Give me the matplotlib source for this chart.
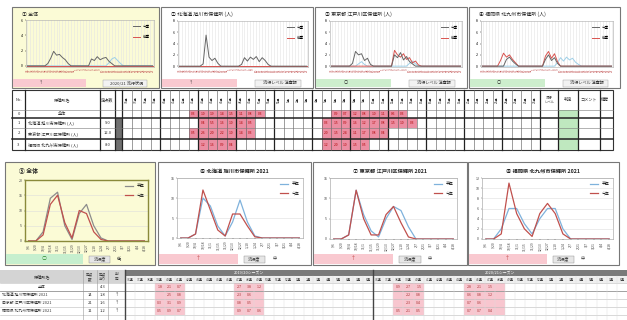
import matplotlib
matplotlib.use("Agg")
import matplotlib.pyplot as plt
from matplotlib.patches import Rectangle

plt.rcParams["font.family"] = ["Noto Sans CJK JP", "DejaVu Sans"]

W, H = 627, 320

# ── weekly counts per sentinel, 44 weeks (top row + summary table) ───────────
top_weeks = ["36", "37", "38", "39", "40", "41", "42", "43", "44", "45", "46",
             "47", "48", "49", "50", "51", "52", "1", "2", "3", "4", "5",
             "6", "7", "8", "9", "10", "11", "12", "13", "14", "15", "16",
             "17", "18", "19", "20", "21", "22", "23", "24", "25", "26", "27"]

top_titles = ["① 全体", "② 北海道 旭川市保健所 (人)",
              "③ 東京都 江戸川区保健所 (人)", "④ 福岡県 北九州市保健所 (人)"]

cur_all = [0, 0, 0, 0, 0, 0, 0, 0.3, 1.0, 1.9, 1.4,
           1.5, 1.1, 0.8, 0.3, 0, 0, 0, 0, 0, 0, 0,
           0.9, 0.7, 1.2, 0.8, 1.0, 1.1, 0.6, 0.3, 0, 0, 0,
           0, 0, 0, 0, 0, 0, 0, 0, 0, 0, 0]
cur_a = [0, 0, 0, 0, 0, 0, 0, 0, 0.4, 5.5, 1.6,
         1.0, 1.4, 0.5, 0, 0, 0, 0, 0, 0, 0, 0.3,
         1.5, 0.9, 1.6, 1.2, 1.7, 0.8, 1.5, 1.0, 0.3, 0, 0,
         0, 0, 0, 0, 0, 0, 0, 0, 0, 0, 0]
cur_b = [0, 0, 0, 0, 0, 0, 0, 0.5, 2.6, 2.0, 2.2,
         1.0, 1.4, 0.3, 0, 0, 0, 0, 0, 0, 0, 2.0,
         1.5, 2.4, 1.1, 1.7, 0.8, 0.4, 0, 0, 0, 0, 0,
         0, 0, 0, 0, 0, 0, 0, 0, 0, 0, 0]
cur_c = [0, 0, 0, 0, 0, 0, 0, 0, 1.2, 1.6, 0.9,
         0.4, 0, 0, 0, 0, 0, 0, 0, 0, 0, 1.2,
         2.0, 1.0, 1.5, 0.5, 0, 0, 0, 0, 0, 0, 0,
         0, 0, 0, 0, 0, 0, 0, 0, 0, 0, 0]

prev_all = [0, 0, 0, 0, 0, 0, 0, 0, 0, 0, 0,
            0, 0, 0, 0, 0, 0, 0, 0, 0, 0, 0,
            0, 0, 0, 0, 0, 0, 0, 0, 0, 0, 0,
            0, 0, 0, 0, 0, 0, 0, 0, 0, 0, 0]
prev_a = [0, 0, 0, 0, 0, 0, 0, 0, 0, 0, 0,
          0, 0, 0, 0, 0, 0, 0, 0, 0, 0, 0,
          0, 0, 0, 0, 0, 0, 0, 0, 0, 0, 0,
          0, 0, 0, 0, 0, 0, 0, 0, 0, 0, 0]
prev_b = [0, 0, 0, 0, 0, 0, 0, 0, 0, 0, 0,
          0, 0, 0, 0, 0, 0, 0, 0, 0, 0, 2.8,
          2.0, 1.6, 2.2, 1.2, 1.5, 0.6, 0.9, 0.2, 0, 0, 0,
          0, 0, 0, 0, 0, 0, 0, 0, 0, 0, 0]
prev_c = [0, 0, 0, 0, 0, 0, 1.0, 2.3, 1.6, 2.0, 1.2,
          0.6, 0, 0, 0, 0, 0, 0, 0, 0, 0, 1.8,
          2.6, 1.4, 2.2, 0.8, 0, 0, 0, 0, 0, 0, 0,
          0, 0, 0, 0, 0, 0, 0, 0, 0, 0, 0]

avg_all = [0, 0, 0, 0, 0, 0, 0, 0, 0, 0, 0,
           0, 0, 0, 0, 0, 0, 0, 0, 0, 0, 0,
           0, 0, 0, 0, 0, 0, 0.4, 0.9, 1.1, 0.7, 0.3,
           0, 0, 0, 0, 0, 0, 0, 0, 0, 0, 0]
avg_a = [0, 0, 0, 0, 0, 0, 0, 0, 0, 0, 0,
         0, 0, 0, 0, 0, 0, 0, 0, 0, 0, 0,
         0, 0, 0, 0, 0, 0, 0, 0, 0, 0, 0,
         0, 0, 0, 0, 0, 0, 0, 0, 0, 0, 0]
avg_b = [0, 0, 0, 0, 0, 0, 0, 0, 0, 0.4, 0.8,
         0.3, 0, 0, 0, 0, 0, 0, 0, 0, 0, 0,
         0, 0, 0, 0, 0.5, 0.9, 0.4, 0, 0, 0, 0,
         0, 0, 0, 0, 0, 0, 0, 0, 0, 0, 0]
avg_c = [0, 0, 0, 0, 0, 0, 0, 0, 0, 0, 0,
         0, 0, 0, 0, 0, 0, 0, 0, 0, 0, 0,
         0, 0, 0, 0.6, 1.5, 0.9, 1.6, 1.1, 1.4, 0.7, 0.3,
         0, 0, 0, 0, 0, 0, 0, 0, 0, 0, 0]

top_ymax = [6, 8, 8, 8]
top_status = ["2020/21 流行状況", "流行レベル 注意報", "流行レベル 注意報", "流行レベル 注意報"]

# ── season curves, 17 points (bottom row) ───────────────────────────────────
bot_weeks = ["9/6", "9/20", "10/4", "10/18", "11/1", "11/15", "11/29", "12/13",
             "12/27", "1/10", "1/24", "2/7", "2/21", "3/7", "3/21", "4/4", "4/18"]
bot_titles = ["⑤ 全体", "⑥ 北海道 旭川市保健所 2021",
              "⑦ 東京都 江戸川区保健所 2021", "⑧ 福岡県 北九州市保健所 2021"]
bot_avg = [[0, 0, 3, 14, 16, 5, 0.5, 9, 12, 5, 1, 0, 0, 0, 0, 0, 0],
           [0, 0, 1, 10, 8, 3, 0.5, 4, 9.5, 4, 0.5, 0, 0, 0, 0, 0, 0],
           [0, 0, 1, 12, 6, 2, 0.5, 5, 8, 7, 3, 0, 0, 0, 0, 0, 0],
           [0, 0, 2, 6, 6, 3, 1, 4, 6, 6, 2, 0, 0, 0, 0, 0, 0]]
bot_cur = [[0, 0, 2, 12, 15, 6, 1, 10, 9, 3, 0.5, 0, 0, 0, 0, 0, 0],
           [0, 0, 1, 12, 7, 2, 0.5, 6, 6, 3, 0.3, 0, 0, 0, 0, 0, 0],
           [0, 0, 1, 12, 5, 1, 1, 6, 8, 4, 0.5, 0, 0, 0, 0, 0, 0],
           [0, 0, 1, 11, 5, 2, 0.5, 5, 7, 5, 1, 0, 0, 0, 0, 0, 0]]
bot_ymax = [20, 15, 15, 12]
bot_ystep = [5, 5, 5, 2]
bot_mark = ["○", "↑", "↑", "↑"]
bot_level = ["低", "中", "中", "中"]

# ── summary table, bottom ────────────────────────────────────────────────────
bt_weeks = ["36", "37", "38", "39", "40", "41", "42", "43", "44", "45", "46", "47", "48",
            "49", "50", "51", "52", "1", "2", "3", "4", "5", "6", "7", "8"]
bt_names = ["全体", "北海道 旭川市保健所 2021", "東京都 江戸川区保健所 2021",
            "福岡県 北九州市保健所 2021"]
bt_sent = ["", "14", "21", "11"]
bt_rate = ["4.3", "1.8", "1.6", "1.2"]
bt_flag = ["", "↑", "↑", "↑"]
bt_cols_prev = [3, 4, 5, 11, 12, 13]
bt_prev = [[1.8, 2.1, 0.7, 2.7, 3.8, 1.2],
           [0, 2.5, 0.8, 2.3, 0.6, 0],
           [0.3, 3.1, 0.9, 0.8, 0.5, 0],
           [0.5, 0.9, 0.7, 0.9, 0.7, 0.6]]
bt_cols_cur = [2, 3, 4, 9, 10, 11, 12]
bt_cur = [[0.9, 2.7, 1.5, 2.8, 2.1, 1.5, 0],
          [0, 2.2, 0.8, 0.6, 0.8, 1.2, 0],
          [0, 2.3, 0.4, 0.7, 0.6, 0, 0],
          [0.5, 2.1, 0.5, 0.7, 0.7, 0.4, 0]]

# ── canvas in pixel coordinates ──────────────────────────────────────────────
fig = plt.figure(figsize=(W / 100, H / 100), dpi=100)
fig.patch.set_facecolor("white")
bg = fig.add_axes([0, 0, 1, 1])
bg.set_xlim(0, W)
bg.set_ylim(H, 0)
bg.axis("off")


def box(x0, y0, x1, y1, fc="none", ec="none", lw=0.6, z=1):
    bg.add_patch(Rectangle((x0, y0), x1 - x0, y1 - y0, fc=fc, ec=ec, lw=lw, zorder=z))


def hline(y, x0, x1, lw=0.5, c="#555"):
    bg.plot([x0, x1], [y, y], color=c, lw=lw, zorder=3)


def vline(x, y0, y1, lw=0.5, c="#555"):
    bg.plot([x, x], [y0, y1], color=c, lw=lw, zorder=3)


def px_axes(x0, y0, x1, y1):
    return fig.add_axes([x0 / W, 1 - y1 / H, (x1 - x0) / W, (y1 - y0) / H])


txt = dict(fontsize=3, color="#333", va="center", ha="center", zorder=4)

# ── top row: weekly charts ───────────────────────────────────────────────────
top_frames = [(12, 7, 159, 88), (161, 7, 313, 88), (315, 7, 467, 88), (469, 7, 620, 88)]
top_plots = [(26, 20, 154, 67), (178, 21, 308, 67), (330, 21, 462, 67), (481, 21, 613, 67)]
top_strip = ["#f9c9d0", "#f9c9d0", "#cdeecd", "#cdeecd"]
top_cur = [cur_all, cur_a, cur_b, cur_c]
top_prev = [prev_all, prev_a, prev_b, prev_c]
top_avg = [avg_all, avg_a, avg_b, avg_c]

for i in range(4):
    x0, y0, x1, y1 = top_frames[i]
    box(x0, y0, x1, y1, fc="#fbfbd6" if i == 0 else "white", ec="#777", lw=0.8)
    box(x0 + 1, 79, x0 + (x1 - x0) * 0.5, 87, fc=top_strip[i])
    box(x0 + (x1 - x0) * 0.62, 79.5, x1 - 12, 86.5, fc="#f2f2f2", ec="#999", lw=0.3)
    bg.text(x0 + (x1 - x0) * 0.78, 83, top_status[i], **txt)
    bg.text(x0 + (x1 - x0) * 0.2, 83.5, "○" if i > 1 else "↑", **txt)
    bg.text(x0 + 10, 14, top_titles[i], fontsize=3.6, color="#222", va="center", zorder=4)

    ax = px_axes(*top_plots[i])
    ax.set_facecolor("#fbfbd6" if i == 0 else "white")
    xs = range(len(top_weeks))
    ax.plot(xs, top_avg[i], color="#9fd0e8", lw=0.7)
    ax.plot(xs, top_prev[i], color="#d9534f", lw=0.7, label="前季")
    ax.plot(xs, top_cur[i], color="#666666", lw=0.7, label="今季")
    ax.set_xlim(-0.5, len(top_weeks) - 0.5)
    ax.set_ylim(-0.15, top_ymax[i])
    ax.set_yticks(range(0, top_ymax[i] + 1, 2))
    ax.set_xticks(list(xs))
    ax.set_xticklabels(top_weeks, rotation=90, fontsize=2.2, color="#c05050")
    ax.tick_params(axis="y", labelsize=2.5, length=1, width=0.3, pad=1)
    ax.tick_params(axis="x", length=0, pad=1)
    ax.grid(axis="x", color="#e4e4e4", lw=0.4)
    for s in ax.spines.values():
        s.set_color("#aaa")
        s.set_linewidth(0.4)
    h, l = ax.get_legend_handles_labels()
    ax.legend(h[::-1], l[::-1], loc="upper right", fontsize=2.6, frameon=False,
              handlelength=1.8, borderaxespad=0.8, labelspacing=1.8)

# ── top summary table ────────────────────────────────────────────────────────
tx0, tx1 = 12, 613
wk_x0, wk_w = 122, 9.5
wk_x1 = wk_x0 + wk_w * len(top_weeks)
rows_y = [90, 110, 118, 128, 139, 150]
box(tx0, 90, tx1, 150, fc="white", ec="#333", lw=0.8)
box(115, 118, 122, 150, fc="#707070")
box(wk_x1 + 18, 110, wk_x1 + 38, 150, fc="#bfe8bf")
tbl_rows = [cur_all, cur_a, cur_b, cur_c]
tbl_no = ["0", "1", "2", "3"]
tbl_name = ["全体", "北海道 旭川市保健所 (人)", "東京都 江戸川区保健所 (人)", "福岡県 北九州市保健所 (人)"]
tbl_sent = ["", "9.0", "12.0", "8.0"]
for r, vals in enumerate(tbl_rows):
    ya, yb = rows_y[r + 1], rows_y[r + 2]
    yc = (ya + yb) / 2
    bg.text(18.5, yc, tbl_no[r], **txt)
    bg.text(28 if r else 62, yc, tbl_name[r], fontsize=3, color="#333", va="center",
            ha="left" if r else "center", zorder=4)
    bg.text(107.5, yc, tbl_sent[r], **txt)
    for k, v in enumerate(vals):
        if v > 0:
            cx = wk_x0 + k * wk_w
            box(cx, ya, cx + wk_w, yb, fc="#ec8ea2", z=2)
            bg.text(cx + wk_w / 2, yc, f"{v:.1f}", fontsize=2.4, color="#b00000",
                    va="center", ha="center", zorder=4)
for k, w in enumerate(top_weeks):
    bg.text(wk_x0 + k * wk_w + wk_w / 2, 100, w + "週", fontsize=2.2, rotation=90,
            color="#333", va="center", ha="center", zorder=4)
bg.text(18.5, 100, "No.", **txt)
bg.text(62, 100, "保健所名", **txt)
bg.text(107.5, 100, "定点数", **txt)
bg.text(wk_x1 + 9, 100, "流行\nレベル", fontsize=2.4, color="#333", ha="center", va="center", zorder=4)
bg.text(wk_x1 + 28, 100, "判定", **txt)
bg.text(wk_x1 + 49, 100, "コメント", **txt)
bg.text(wk_x1 + 65, 100, "備考", **txt)
for x in [25, 100, 115, 122, wk_x1, wk_x1 + 18, wk_x1 + 38, wk_x1 + 60]:
    vline(x, 90, 150, lw=0.9, c="#222")
for k in range(1, len(top_weeks)):
    x = wk_x0 + k * wk_w
    vline(x, 90, 150, lw=0.9 if k % 4 == 0 else 0.45, c="#222" if k % 4 == 0 else "#666")
hline(110, tx0, tx1, lw=0.4, c="#777")
hline(128, tx0, tx1, lw=0.4, c="#777")
for y in [118, 139]:
    hline(y, tx0, tx1, lw=1.1, c="#222")

# ── bottom row: season curves ────────────────────────────────────────────────
bot_frames = [(5, 162, 155, 265), (158, 162, 311, 265), (313, 162, 467, 265), (468, 162, 619, 265)]
bot_plots = [(25, 180, 148, 241), (177, 178, 303, 238), (330, 178, 457, 239), (482, 178, 613, 239)]
bot_strip = ["#c6efce", "#f9c9d0", "#f9c9d0", "#f9c9d0"]

for i in range(4):
    x0, y0, x1, y1 = bot_frames[i]
    box(x0, y0, x1, y1, fc="#fbfbd6" if i == 0 else "white", ec="#777", lw=0.8)
    box(x0 + 1, 254, x0 + (x1 - x0) * 0.52, 264, fc=bot_strip[i])
    bg.text(x0 + (x1 - x0) * 0.26, 259, bot_mark[i], fontsize=3.6,
            color="#2e8b2e" if i == 0 else "#c04040", ha="center", va="center", zorder=4)
    box(x0 + (x1 - x0) * 0.56, 255.5, x0 + (x1 - x0) * 0.7, 262.5, fc="#e6e6e6", ec="#888", lw=0.3)
    bg.text(x0 + (x1 - x0) * 0.63, 259, "流行度", **txt)
    bg.text(x0 + (x1 - x0) * 0.76, 259, bot_level[i], **txt)
    if i == 0:
        bg.text(x0 + 14, 171, bot_titles[i], fontsize=4.2, color="#222", fontweight="bold",
                va="center", zorder=4)
    else:
        bg.text((x0 + x1) / 2, 171, bot_titles[i], fontsize=3.8, color="#222",
                fontweight="bold", ha="center", va="center", zorder=4)

    ax = px_axes(*bot_plots[i])
    ax.set_facecolor("#fbfbd6" if i == 0 else "white")
    xs = range(len(bot_weeks))
    ax.plot(xs, bot_avg[i], color="#8c8c8c" if i == 0 else "#7fb2dc", lw=0.9, label="平年")
    ax.plot(xs, bot_cur[i], color="#c0504d", lw=0.9, label="今年")
    ax.set_xlim(-0.5, len(bot_weeks) - 0.5)
    ax.set_ylim(0, bot_ymax[i])
    ax.set_yticks(range(0, bot_ymax[i] + 1, bot_ystep[i]))
    ax.set_xticks(list(xs))
    ax.set_xticklabels(bot_weeks, rotation=90, fontsize=2.4, color="#444")
    ax.tick_params(axis="y", labelsize=2.6, length=1, width=0.3, pad=1, colors="#444")
    ax.tick_params(axis="x", length=1, width=0.3, pad=1)
    ax.grid(axis="y", color="#dddddd", lw=0.4)
    for s in ax.spines.values():
        s.set_color("#8a8a3a" if i == 0 else "#999")
        s.set_linewidth(1.0 if i == 0 else 0.4)
    ax.legend(loc="upper right", fontsize=2.8, frameon=False, handlelength=2,
              borderaxespad=0.6, labelspacing=1.4)

# ── bottom summary table ─────────────────────────────────────────────────────
split = 373
col_a = (split - 125) / len(bt_weeks)
col_b = (W - split) / len(bt_weeks)
rows_b = [283, 291, 299, 307, 315, 323]
box(0, 270, 125, 283, fc="#d4d4d4")
box(125, 270, W, 276, fc="#7a7a7a")
box(125, 276, W, 283, fc="#efefef")
bg.text(249, 273, "2019/20シーズン", fontsize=2.8, color="white", ha="center", va="center", zorder=4)
bg.text(500, 273, "2020/21シーズン", fontsize=2.8, color="white", ha="center", va="center", zorder=4)
for k, w in enumerate(bt_weeks):
    bg.text(125 + (k + 0.5) * col_a, 279.5, w + "週", fontsize=2.3, color="#444",
            ha="center", va="center", zorder=4)
    bg.text(split + (k + 0.5) * col_b, 279.5, w + "週", fontsize=2.3, color="#444",
            ha="center", va="center", zorder=4)
bg.text(42, 276.5, "保健所名", **txt)
bg.text(90, 276.5, "定点\n数", fontsize=2.6, color="#333", ha="center", va="center", zorder=4)
bg.text(102.5, 276.5, "定点\n当り", fontsize=2.6, color="#333", ha="center", va="center", zorder=4)
bg.text(116.5, 276.5, "判\n定", fontsize=2.6, color="#333", ha="center", va="center", zorder=4)

for r in range(len(bt_names)):
    ya, yb = rows_b[r], rows_b[r + 1]
    yc = (ya + yb) / 2
    bg.text(42 if r == 0 else 2, yc, bt_names[r], fontsize=2.8, color="#333", va="center",
            ha="center" if r == 0 else "left", zorder=4)
    bg.text(90, yc, bt_sent[r], **txt)
    bg.text(102.5, yc, bt_rate[r], **txt)
    bg.text(116.5, yc, bt_flag[r], **txt)
    for k, v in zip(bt_cols_prev, bt_prev[r]):
        cx = 125 + k * col_a
        box(cx, ya, cx + col_a, yb, fc="#f8c6cf", z=2)
        if v > 0:
            bg.text(cx + col_a / 2, yc, f"{v:.1f}", fontsize=2.6, color="#a33", va="center",
                    ha="center", zorder=4)
    for k, v in zip(bt_cols_cur, bt_cur[r]):
        cx = split + k * col_b
        box(cx, ya, cx + col_b, yb, fc="#f8c6cf", z=2)
        if v > 0:
            bg.text(cx + col_b / 2, yc, f"{v:.1f}", fontsize=2.6, color="#a33", va="center",
                    ha="center", zorder=4)

for y in rows_b[:-1]:
    hline(y, 0, W, lw=0.4, c="#bbbbbb")
hline(291, 0, W, lw=0.6, c="#999")
for x in [83, 97, 108]:
    vline(x, 270, H, lw=0.4, c="#999")
for k in range(1, len(bt_weeks)):
    vline(125 + k * col_a, 276, H, lw=0.3, c="#dddddd")
    vline(split + k * col_b, 276, H, lw=0.3, c="#dddddd")
vline(125, 270, H, lw=1.0, c="#444")
vline(split, 270, H, lw=1.0, c="#444")

fig.savefig("out.png", dpi=100, facecolor="white")
